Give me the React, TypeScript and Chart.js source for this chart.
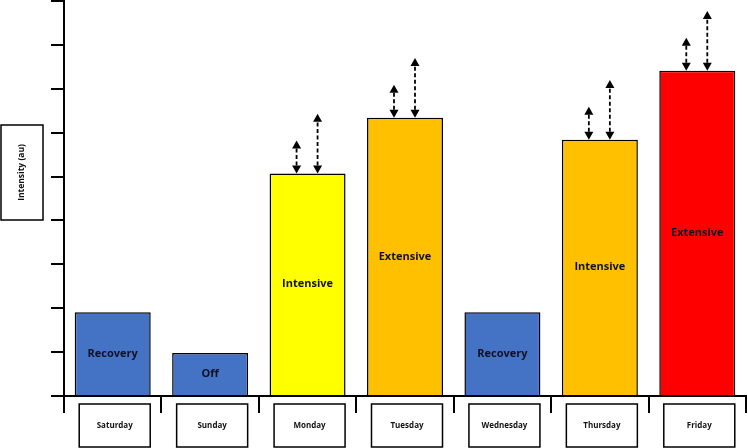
import { useEffect, useRef } from "react";
import { Chart, registerables } from "chart.js";

Chart.register(...registerables);

const days = ["Saturday", "Sunday", "Monday", "Tuesday", "Wednesday", "Thursday", "Friday"];
const intensity = [1.91, 0.98, 5.07, 6.34, 1.91, 5.84, 7.41];
const sessionTypes = ["Recovery", "Off", "Intensive", "Extensive", "Recovery", "Intensive", "Extensive"];
const barColors = ["#4472C4", "#4472C4", "#FFFF00", "#FFC000", "#4472C4", "#FFC000", "#FF0000"];
const shortRange: (number | null)[] = [null, null, 0.75, 0.75, null, 0.75, 0.75];
const longRange: (number | null)[] = [null, null, 1.36, 1.36, null, 1.36, 1.36];
const yTitle = "Intensity (au)";

function drawArrow(ctx: CanvasRenderingContext2D, x: number, yBottom: number, yTop: number) {
  const head = 8;
  const half = 4.5;
  ctx.save();
  ctx.strokeStyle = "#000";
  ctx.fillStyle = "#000";
  ctx.lineWidth = 1.8;
  ctx.setLineDash([4, 2.5]);
  ctx.beginPath();
  ctx.moveTo(x, yBottom - head);
  ctx.lineTo(x, yTop + head);
  ctx.stroke();
  ctx.setLineDash([]);
  ctx.beginPath();
  ctx.moveTo(x, yBottom);
  ctx.lineTo(x - half, yBottom - head);
  ctx.lineTo(x + half, yBottom - head);
  ctx.closePath();
  ctx.fill();
  ctx.beginPath();
  ctx.moveTo(x, yTop);
  ctx.lineTo(x - half, yTop + head);
  ctx.lineTo(x + half, yTop + head);
  ctx.closePath();
  ctx.fill();
  ctx.restore();
}

const overlay = {
  id: "overlay",
  afterDatasetsDraw(chart: any) {
    const ctx: CanvasRenderingContext2D = chart.ctx;
    const xs = chart.scales.x;
    const ys = chart.scales.y;
    const area = chart.chartArea;
    const meta = chart.getDatasetMeta(0);
    ctx.save();
    meta.data.forEach((bar: any, i: number) => {
      const p = bar.getProps(["x", "y", "base"], true);
      ctx.fillStyle = "#111122";
      ctx.font = 'bold 11px "Open Sans", sans-serif';
      ctx.textAlign = "center";
      ctx.textBaseline = "middle";
      ctx.fillText(sessionTypes[i], p.x, (p.y + p.base) / 2);
      const pairs: [(number | null)[], number][] = [
        [shortRange, -11],
        [longRange, 10],
      ];
      pairs.forEach(([arr, dx]) => {
        const v = arr[i];
        if (v == null) return;
        const yTop = ys.getPixelForValue(intensity[i] + v);
        drawArrow(ctx, p.x + dx, p.y, yTop);
      });
    });

    // category label boxes
    ctx.lineWidth = 1.5;
    ctx.strokeStyle = "#000";
    days.forEach((d, i) => {
      const cx = xs.getPixelForValue(i) + 2;
      const top = area.bottom + 8;
      const w = 71;
      const h = 43;
      ctx.fillStyle = "#fff";
      ctx.fillRect(cx - w / 2, top, w, h);
      ctx.strokeRect(cx - w / 2, top, w, h);
      ctx.fillStyle = "#111";
      ctx.font = 'bold 8px "Open Sans", sans-serif';
      ctx.textAlign = "center";
      ctx.textBaseline = "middle";
      ctx.fillText(d, cx, top + h / 2);
    });

    // y title box
    const bx = 1;
    const by = 125;
    const bw = 42;
    const bh = 95;
    ctx.strokeRect(bx, by, bw, bh);
    ctx.translate(bx + bw / 2, by + bh / 2);
    ctx.rotate(-Math.PI / 2);
    ctx.fillStyle = "#111";
    ctx.font = 'bold 8.5px "Open Sans", sans-serif';
    ctx.textAlign = "center";
    ctx.textBaseline = "middle";
    ctx.fillText(yTitle, 0, 0);
    ctx.restore();
  },
};

export default function App() {
  const ref = useRef<HTMLCanvasElement | null>(null);
  useEffect(() => {
    if (!ref.current) return;
    const chart = new Chart(ref.current, {
      type: "bar",
      data: {
        labels: days,
        datasets: [
          {
            data: intensity,
            backgroundColor: barColors,
            borderColor: "#000",
            borderWidth: 1.5,
            categoryPercentage: 1,
            barPercentage: 0.78,
          },
        ],
      },
      options: {
        animation: false,
        responsive: false,
        devicePixelRatio: 1,
        layout: { padding: { left: 51, right: 2, top: 1, bottom: 35 } },
        plugins: { legend: { display: false }, tooltip: { enabled: false } },
        scales: {
          x: {
            offset: true,
            grid: {
              offset: true,
              drawOnChartArea: false,
              drawTicks: true,
              tickLength: 17,
              color: "#000",
              lineWidth: 2,
            },
            border: { display: true, color: "#000", width: 2 },
            ticks: { display: false },
          },
          y: {
            min: 0,
            max: 9,
            grid: {
              drawOnChartArea: false,
              drawTicks: true,
              tickLength: 13,
              color: "#000",
              lineWidth: 2,
            },
            border: { display: true, color: "#000", width: 2 },
            ticks: { display: false, stepSize: 1 },
          },
        },
      },
      plugins: [overlay],
    });
    return () => chart.destroy();
  }, []);
  return (
    <div style={{ position: "fixed", left: 0, top: 0, width: 748, height: 448, background: "#fff" }}>
      <canvas ref={ref} width={748} height={448} style={{ display: "block" }} />
    </div>
  );
}
